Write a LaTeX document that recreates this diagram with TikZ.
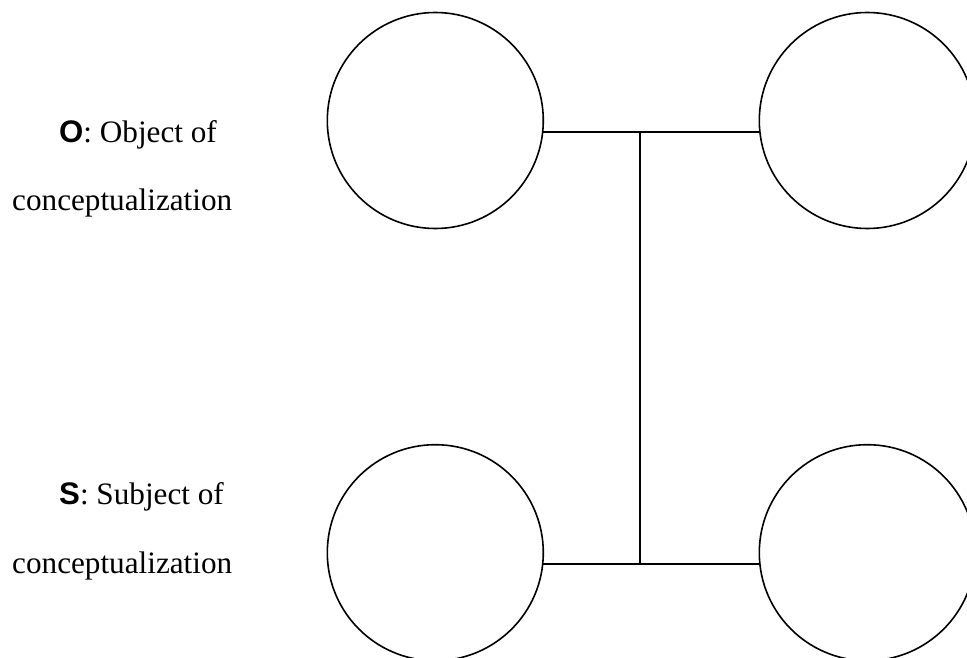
\documentclass[tikz,border=0pt]{standalone}
\usepackage{fontspec}
\setmainfont{Liberation Serif}
\newfontfamily\labelsans{Liberation Sans}
\begin{document}
\begin{tikzpicture}[x=1pt,y=-1pt,
  ring/.style={circle, draw, line width=1.6pt, minimum size=216pt, inner sep=0pt, outer sep=0pt},
  link/.style={line width=1.6pt},
  caption/.style={anchor=base west, inner sep=0pt, font=\fontsize{31.2}{37}\selectfont}]
\useasboundingbox (0,0) rectangle (967,658);
\clip (0,0) rectangle (967,658);
\node[ring] (tl) at (435.3,120.5) {};
\node[ring] (tr) at (867.3,120.5) {};
\node[ring] (bl) at (435.3,552.7) {};
\node[ring] (br) at (867.3,552.7) {};
\coordinate (jt) at (640,132.3);
\coordinate (jb) at (640,564.5);
\draw[link] (tl.-6.3) -- (tr.186.3);
\draw[link] (bl.-6.3) -- (br.186.3);
\draw[link] (jt) -- (jb);
\node[caption] (o1) at (59,142.5) {{\labelsans\bfseries O}: Object of};
\node[caption] (o2) at (12,211) {conceptualization};
\node[caption] (s1) at (59,504) {{\labelsans\bfseries S}: Subject of};
\node[caption] (s2) at (12,573) {conceptualization};
\end{tikzpicture}
\end{document}
